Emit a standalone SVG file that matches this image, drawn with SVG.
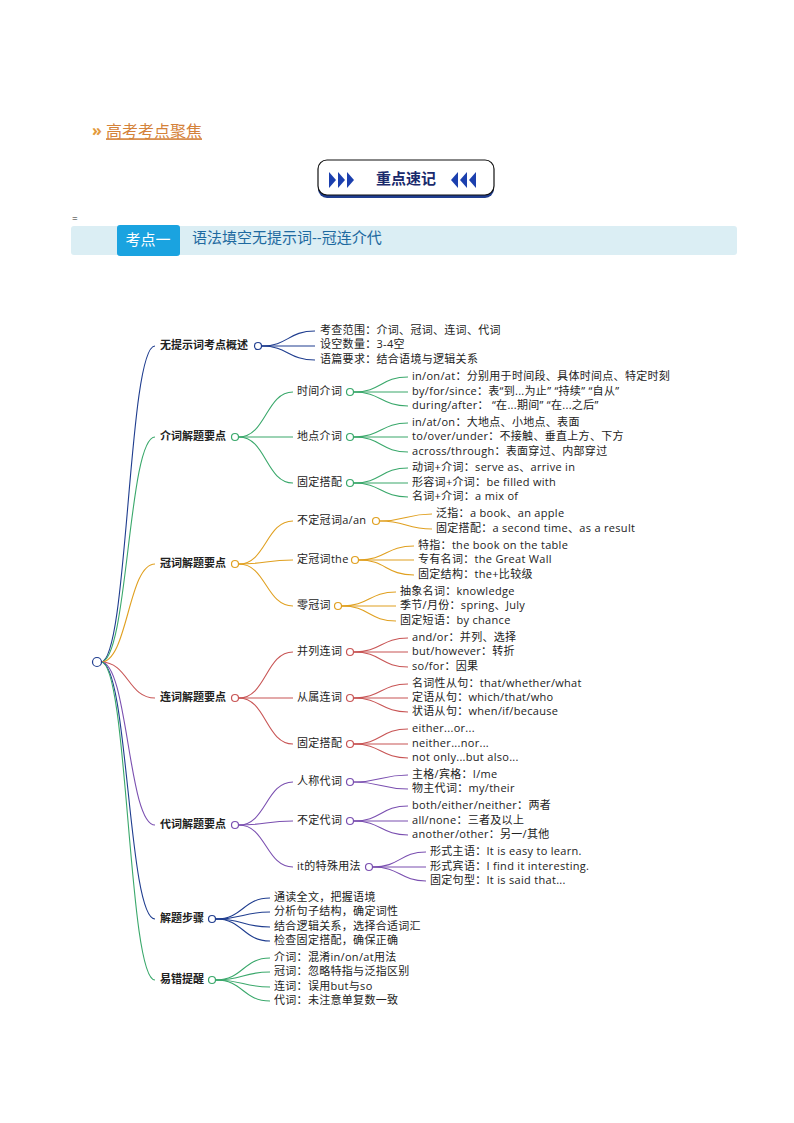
<svg xmlns="http://www.w3.org/2000/svg" width="794" height="1123" viewBox="0 0 794 1123">
<style>
text{font-family:"Open Sans","Noto Sans CJK SC",sans-serif;font-size:11px;letter-spacing:0.3px;fill:#222;dominant-baseline:middle}
.l1{font-weight:bold;letter-spacing:0}
path{fill:none;stroke-width:1.1}
circle{fill:#fff;stroke-width:1.2}
.nv{stroke:#1f3d8f}.gr{stroke:#3aa86b}.or{stroke:#e0a020}.rd{stroke:#c85555}.pu{stroke:#7a4fb0}
</style>
<rect width="794" height="1123" fill="#fff"/>
<g id="header">
<text x="92" y="132" style="font-size:16px;fill:#e39a3c;font-weight:bold;letter-spacing:0">»</text>
<text x="106" y="133" style="font-size:16px;fill:#d4823a;text-decoration:underline;letter-spacing:0">高考考点聚焦</text>
<rect x="318" y="162" width="176" height="36" rx="9" fill="#1f3d8f"/>
<rect x="318" y="160" width="176" height="35" rx="9" fill="#fff" stroke="#111" stroke-width="1.2"/>
<g fill="#1b3fae">
<polygon points="329,172 336,180 329,188"/><polygon points="338,172 345,180 338,188"/><polygon points="347,172 354,180 347,188"/>
<polygon points="458,172 451,180 458,188"/><polygon points="467,172 460,180 467,188"/><polygon points="476,172 469,180 476,188"/>
</g>
<text x="406" y="180" text-anchor="middle" style="font-size:15px;font-weight:bold;fill:#1a2a6c;letter-spacing:0">重点速记</text>
<text x="72" y="219" style="font-size:10px">=</text>
<rect x="71" y="226" width="666" height="29" rx="3" fill="#dbeef4"/>
<rect x="117" y="225" width="63" height="31" rx="3" fill="#1aa3e0"/>
<text x="148" y="241" text-anchor="middle" style="font-size:15px;fill:#fff;letter-spacing:0">考点一</text>
<text x="192" y="239" style="font-size:15px;fill:#1e6aa0;letter-spacing:0">语法填空无提示词--冠连介代</text>
</g>
<g id="connectors">
<path class="nv" d="M101 662 C128 662 128 346 155 346"/>
<path class="gr" d="M101 662 C128 662 128 437 155 437"/>
<path class="or" d="M101 662 C128 662 128 564 155 564"/>
<path class="rd" d="M101 662 C128 662 128 698 155 698"/>
<path class="pu" d="M101 662 C128 662 128 825 155 825"/>
<path class="nv" d="M101 662 C128 662 128 919 155 919"/>
<path class="gr" d="M101 662 C128 662 128 980 155 980"/>
<g class="nv"><path d="M262 346 C288 346 288 331 315 331"/><path d="M262 346 L315 346"/><path d="M262 346 C288 346 288 360 315 360"/></g>
<g class="gr"><path d="M239 437 C266 437 266 392 293 392"/><path d="M239 437 L293 437"/><path d="M239 437 C266 437 266 483 293 483"/>
<path d="M354 392 C381 392 381 377 408 377"/><path d="M354 392 L408 392"/><path d="M354 392 C381 392 381 406 408 406"/>
<path d="M354 437 C381 437 381 423 408 423"/><path d="M354 437 L408 437"/><path d="M354 437 C381 437 381 452 408 452"/>
<path d="M354 483 C381 483 381 468 408 468"/><path d="M354 483 L408 483"/><path d="M354 483 C381 483 381 497 408 497"/></g>
<g class="or"><path d="M239 564 C266 564 266 521 293 521"/><path d="M239 564 C266 564 266 560 293 560"/><path d="M239 564 C266 564 266 606 293 606"/>
<path d="M380 521 C406 521 406 514 432 514"/><path d="M380 521 C406 521 406 529 432 529"/>
<path d="M359 560 C386 560 386 546 414 546"/><path d="M359 560 L414 560"/><path d="M359 560 C386 560 386 575 414 575"/>
<path d="M342 606 C369 606 369 592 396 592"/><path d="M342 606 L396 606"/><path d="M342 606 C369 606 369 621 396 621"/></g>
<g class="rd"><path d="M239 698 C266 698 266 652 293 652"/><path d="M239 698 L293 698"/><path d="M239 698 C266 698 266 744 293 744"/>
<path d="M354 652 C381 652 381 638 408 638"/><path d="M354 652 L408 652"/><path d="M354 652 C381 652 381 667 408 667"/>
<path d="M354 698 C381 698 381 684 408 684"/><path d="M354 698 L408 698"/><path d="M354 698 C381 698 381 712 408 712"/>
<path d="M354 744 C381 744 381 729 408 729"/><path d="M354 744 L408 744"/><path d="M354 744 C381 744 381 758 408 758"/></g>
<g class="pu"><path d="M239 825 C266 825 266 782 293 782"/><path d="M239 825 C266 825 266 821 293 821"/><path d="M239 825 C266 825 266 867 293 867"/>
<path d="M354 782 C381 782 381 775 408 775"/><path d="M354 782 C381 782 381 789 408 789"/>
<path d="M354 821 C381 821 381 806 408 806"/><path d="M354 821 L408 821"/><path d="M354 821 C381 821 381 835 408 835"/>
<path d="M373 867 C400 867 400 852 426 852"/><path d="M373 867 L426 867"/><path d="M373 867 C400 867 400 881 426 881"/></g>
<g class="nv"><path d="M216 919 C243 919 243 898 270 898"/><path d="M216 919 C243 919 243 912 270 912"/><path d="M216 919 C243 919 243 927 270 927"/><path d="M216 919 C243 919 243 941 270 941"/></g>
<g class="gr"><path d="M216 980 C243 980 243 958 270 958"/><path d="M216 980 C243 980 243 972 270 972"/><path d="M216 980 C243 980 243 987 270 987"/><path d="M216 980 C243 980 243 1001 270 1001"/></g>
</g>
<g id="root"><circle cx="97" cy="662" r="4.5" class="nv"/></g>
<g id="n1"><text x="160" y="346" class="l1">无提示词考点概述</text><circle cx="258" cy="346" r="3.5" class="nv"/>
<text x="320" y="331">考查范围：介词、冠词、连词、代词</text><text x="320" y="345">设空数量：3-4空</text><text x="320" y="360">语篇要求：结合语境与逻辑关系</text></g>
<g id="n2"><text x="160" y="437" class="l1">介词解题要点</text><circle cx="235" cy="437" r="3.5" class="gr"/>
<text x="297" y="392">时间介词</text><circle cx="350" cy="392" r="3.5" class="gr"/>
<text x="412" y="377">in/on/at：分别用于时间段、具体时间点、特定时刻</text><text x="412" y="392">by/for/since：表“到...为止” “持续” “自从”</text><text x="412" y="406">during/after： “在...期间” “在...之后”</text>
<text x="297" y="437">地点介词</text><circle cx="350" cy="437" r="3.5" class="gr"/>
<text x="412" y="423">in/at/on：大地点、小地点、表面</text><text x="412" y="437">to/over/under：不接触、垂直上方、下方</text><text x="412" y="452">across/through：表面穿过、内部穿过</text>
<text x="297" y="483">固定搭配</text><circle cx="350" cy="483" r="3.5" class="gr"/>
<text x="412" y="468">动词+介词：serve as、arrive in</text><text x="412" y="483">形容词+介词：be filled with</text><text x="412" y="497">名词+介词：a mix of</text></g>
<g id="n3"><text x="160" y="564" class="l1">冠词解题要点</text><circle cx="235" cy="564" r="3.5" class="or"/>
<text x="297" y="521">不定冠词a/an</text><circle cx="376" cy="521" r="3.5" class="or"/>
<text x="436" y="514">泛指：a book、an apple</text><text x="436" y="529">固定搭配：a second time、as a result</text>
<text x="297" y="560">定冠词the</text><circle cx="355" cy="560" r="3.5" class="or"/>
<text x="418" y="546">特指：the book on the table</text><text x="418" y="560">专有名词：the Great Wall</text><text x="418" y="575">固定结构：the+比较级</text>
<text x="297" y="606">零冠词</text><circle cx="338" cy="606" r="3.5" class="or"/>
<text x="400" y="592">抽象名词：knowledge</text><text x="400" y="606">季节/月份：spring、July</text><text x="400" y="621">固定短语：by chance</text></g>
<g id="n4"><text x="160" y="698" class="l1">连词解题要点</text><circle cx="235" cy="698" r="3.5" class="rd"/>
<text x="297" y="652">并列连词</text><circle cx="350" cy="652" r="3.5" class="rd"/>
<text x="412" y="638">and/or：并列、选择</text><text x="412" y="652">but/however：转折</text><text x="412" y="667">so/for：因果</text>
<text x="297" y="698">从属连词</text><circle cx="350" cy="698" r="3.5" class="rd"/>
<text x="412" y="684">名词性从句：that/whether/what</text><text x="412" y="698">定语从句：which/that/who</text><text x="412" y="712">状语从句：when/if/because</text>
<text x="297" y="744">固定搭配</text><circle cx="350" cy="744" r="3.5" class="rd"/>
<text x="412" y="729">either...or...</text><text x="412" y="744">neither...nor...</text><text x="412" y="758">not only...but also...</text></g>
<g id="n5"><text x="160" y="825" class="l1">代词解题要点</text><circle cx="235" cy="825" r="3.5" class="pu"/>
<text x="297" y="782">人称代词</text><circle cx="350" cy="782" r="3.5" class="pu"/>
<text x="412" y="775">主格/宾格：I/me</text><text x="412" y="789">物主代词：my/their</text>
<text x="297" y="821">不定代词</text><circle cx="350" cy="821" r="3.5" class="pu"/>
<text x="412" y="806">both/either/neither：两者</text><text x="412" y="821">all/none：三者及以上</text><text x="412" y="835">another/other：另一/其他</text>
<text x="297" y="867">it的特殊用法</text><circle cx="369" cy="867" r="3.5" class="pu"/>
<text x="430" y="852">形式主语：It is easy to learn.</text><text x="430" y="867">形式宾语：I find it interesting.</text><text x="430" y="881">固定句型：It is said that...</text></g>
<g id="n6"><text x="160" y="919" class="l1">解题步骤</text><circle cx="212" cy="919" r="3.5" class="nv"/>
<text x="274" y="898">通读全文，把握语境</text><text x="274" y="912">分析句子结构，确定词性</text><text x="274" y="927">结合逻辑关系，选择合适词汇</text><text x="274" y="941">检查固定搭配，确保正确</text></g>
<g id="n7"><text x="160" y="980" class="l1">易错提醒</text><circle cx="212" cy="980" r="3.5" class="gr"/>
<text x="274" y="958">介词：混淆in/on/at用法</text><text x="274" y="972">冠词：忽略特指与泛指区别</text><text x="274" y="987">连词：误用but与so</text><text x="274" y="1001">代词：未注意单复数一致</text></g>
</svg>
